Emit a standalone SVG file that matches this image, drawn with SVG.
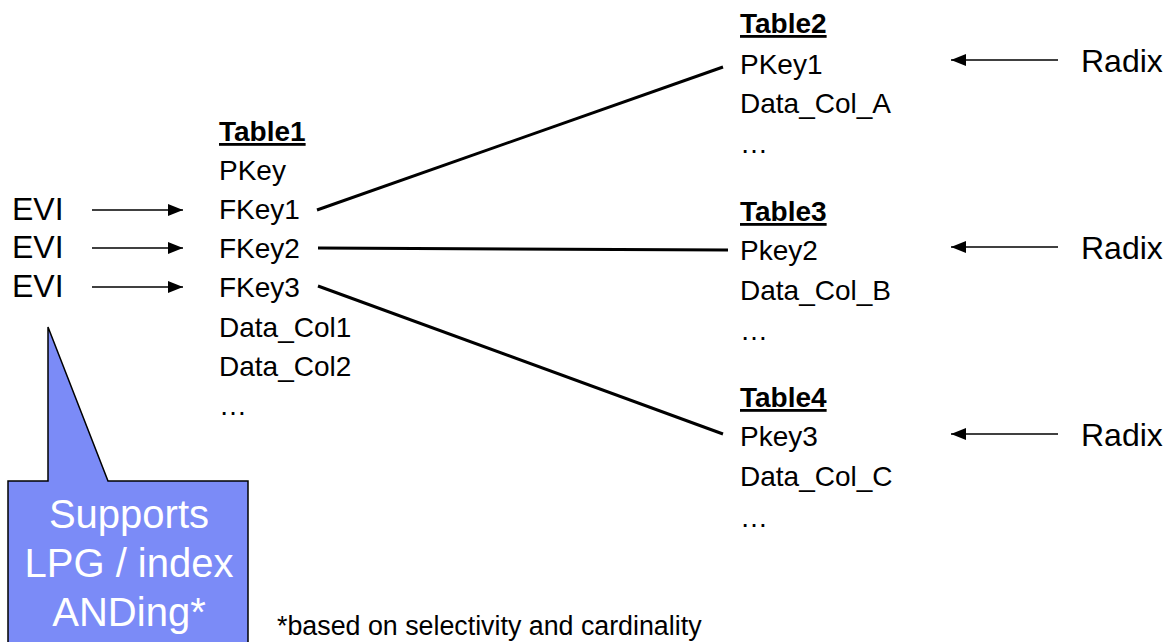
<svg xmlns="http://www.w3.org/2000/svg" width="1174" height="642" viewBox="0 0 1174 642">
<defs>
<marker id="ah" viewBox="0 0 15 12" refX="15" refY="6" markerWidth="15" markerHeight="12" markerUnits="userSpaceOnUse" orient="auto"><path d="M0,0 L15,6 L0,12 z" fill="#000"/></marker>
<style>
text{font-family:"Liberation Sans",Arial,sans-serif;fill:#000}
.t{font-size:28px}
.h{font-size:28px;font-weight:bold;text-decoration:underline}
.big{font-size:32px}
.w{font-size:40px;fill:#fff;text-anchor:middle}
.fn{font-size:26.8px}
.arr{stroke:#000;stroke-width:1.6;fill:none}
.link{stroke:#000;stroke-width:3;fill:none}
</style>
</defs>
<rect width="1174" height="642" fill="#fff"/>
<g id="connectors">
<line class="arr" x1="92" y1="210" x2="183" y2="210" marker-end="url(#ah)"/>
<line class="arr" x1="92" y1="248" x2="183" y2="248" marker-end="url(#ah)"/>
<line class="arr" x1="92" y1="287" x2="183" y2="287" marker-end="url(#ah)"/>
<line class="arr" x1="1058" y1="60" x2="951" y2="60" marker-end="url(#ah)"/>
<line class="arr" x1="1058" y1="247" x2="951" y2="247" marker-end="url(#ah)"/>
<line class="arr" x1="1058" y1="434" x2="951" y2="434" marker-end="url(#ah)"/>
<line class="link" x1="317" y1="210" x2="723" y2="67"/>
<line class="link" x1="318" y1="248" x2="728" y2="250"/>
<line class="link" x1="318" y1="286" x2="723" y2="434"/>
</g>
<g id="evi">
<text class="big" x="12" y="220">EVI</text>
<text class="big" x="12" y="258">EVI</text>
<text class="big" x="12" y="297">EVI</text>
</g>
<g id="table1">
<text class="h" x="219" y="141">Table1</text>
<text class="t" x="219" y="180">PKey</text>
<text class="t" x="219" y="219">FKey1</text>
<text class="t" x="219" y="258">FKey2</text>
<text class="t" x="219" y="297">FKey3</text>
<text class="t" x="219" y="337">Data_Col1</text>
<text class="t" x="219" y="376">Data_Col2</text>
<text class="t" x="219" y="415">…</text>
</g>
<g id="table2">
<text class="h" x="740" y="33">Table2</text>
<text class="t" x="740" y="74">PKey1</text>
<text class="t" x="740" y="113">Data_Col_A</text>
<text class="t" x="740" y="153">…</text>
</g>
<g id="table3">
<text class="h" x="740" y="221">Table3</text>
<text class="t" x="740" y="260">Pkey2</text>
<text class="t" x="740" y="300">Data_Col_B</text>
<text class="t" x="740" y="340">…</text>
</g>
<g id="table4">
<text class="h" x="740" y="407">Table4</text>
<text class="t" x="740" y="446">Pkey3</text>
<text class="t" x="740" y="486">Data_Col_C</text>
<text class="t" x="740" y="527">…</text>
</g>
<g id="radix">
<text class="big" x="1081" y="72">Radix</text>
<text class="big" x="1081" y="259">Radix</text>
<text class="big" x="1081" y="446">Radix</text>
</g>
<g id="callout">
<path d="M8,481 L48,481 L48,327 L108,481 L248,481 L248,650 L8,650 Z" fill="#7b8bf7" stroke="#000" stroke-width="1.5"/>
<text class="w" x="129" y="528">Supports</text>
<text class="w" x="129" y="577">LPG / index</text>
<text class="w" x="129" y="626">ANDing*</text>
</g>
<g id="footnote">
<text class="fn" x="277" y="635">*based on selectivity and cardinality</text>
</g>
</svg>
